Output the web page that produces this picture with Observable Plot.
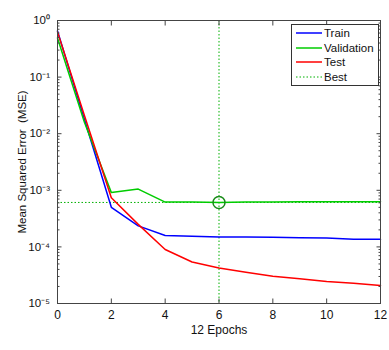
<!DOCTYPE html>
<html><head><meta charset="utf-8">
<script src="https://cdn.jsdelivr.net/npm/d3@7"></script>
<script src="https://cdn.jsdelivr.net/npm/@observablehq/plot@0.6"></script>
<style>
body{margin:0;background:#fff;font-family:"Liberation Sans",Arial,sans-serif;}
#wrap{position:relative;width:389px;height:350px;}
#legend{position:absolute;left:291px;top:24px;width:88px;height:62px;border:1px solid #333;background:#fff;font-size:11.5px;box-sizing:border-box;padding-top:1px;color:#111;}
#legend .row{height:14.6px;display:flex;align-items:center;}
#legend svg{margin-left:4px;margin-right:2px;flex:none;}
</style>
</head><body>
<div id="wrap"><div id="legend"></div></div>
<script>
const epochs = [0,1,2,3,4,5,6,7,8,9,10,11,12];
const train = [0.65, 0.018, 5.0e-4, 2.35e-4, 1.59e-4, 1.55e-4, 1.5e-4, 1.5e-4, 1.48e-4, 1.45e-4, 1.43e-4, 1.37e-4, 1.37e-4];
const validation = [0.49, 0.016, 9.1e-4, 1.05e-3, 6.2e-4, 6.2e-4, 6.1e-4, 6.2e-4, 6.2e-4, 6.3e-4, 6.3e-4, 6.3e-4, 6.3e-4];
const test = [0.63, 0.021, 7.4e-4, 2.5e-4, 9.0e-5, 5.4e-5, 4.25e-5, 3.56e-5, 3.03e-5, 2.74e-5, 2.45e-5, 2.28e-5, 2.08e-5];
const bestEpoch = 6;
const bestPerf = 6.1e-4;
const seriesNames = ["Train", "Validation", "Test"];
const seriesColors = ["#0000ff", "#00cc00", "#ff0000"];
const xTicks = [0,2,4,6,8,10,12];
const yTicks = [1e-5,1e-4,1e-3,1e-2,1e-1,1];
const yTickLabels = ["10\u207B\u2075","10\u207B\u2074","10\u207B\u00B3","10\u207B\u00B2","10\u207B\u00B9","10\u2070"];
const minorMultipliers = [2,3,4,5,6,7,8,9];

const minorTicks = yTicks.slice(0,-1).flatMap(d => minorMultipliers.map(k => k*d));
const seriesValues = [train, validation, test];
const rows = seriesNames.flatMap((s,i) => epochs.map((e,j) => ({series:s, epoch:e, value:seriesValues[i][j]})));
const yLabel = (d) => yTickLabels[yTicks.indexOf(d)];

const chart = Plot.plot({
  width: 389, height: 350,
  marginLeft: 57, marginRight: 9, marginTop: 20, marginBottom: 47,
  style: {fontFamily: '"Liberation Sans", Arial, sans-serif', fontSize: "12px", color: "#111", background: "white"},
  x: {domain: [0, 12]},
  y: {type: "log", domain: [1e-5, 1]},
  color: {domain: seriesNames, range: seriesColors},
  marks: [
    Plot.ruleX([bestEpoch], {stroke: "#00b000", strokeDasharray: "1.5,2", strokeWidth: 1}),
    Plot.ruleY([bestPerf], {stroke: "#00b000", strokeDasharray: "1.5,2", strokeWidth: 1}),
    Plot.line(rows, {x: "epoch", y: "value", stroke: "series", z: "series", strokeWidth: 1.5}),
    Plot.dot([{epoch: bestEpoch, value: bestPerf}], {x: "epoch", y: "value", r: 6, stroke: "#1a8c1a", strokeWidth: 1.5}),
    Plot.frame({stroke: "#444"}),
    Plot.axisY(minorTicks, {anchor: "left", tickSize: -2.5, tickFormat: () => "", label: null, stroke: "#444"}),
    Plot.axisY(minorTicks, {anchor: "right", tickSize: -2.5, tickFormat: () => "", label: null, stroke: "#444"}),
    Plot.axisY(yTicks, {anchor: "right", tickSize: -4.5, tickFormat: () => "", label: null, stroke: "#444"}),
    Plot.axisY(yTicks, {anchor: "left", tickSize: -4.5, tickPadding: 12, tickFormat: yLabel, stroke: "#444", fontSize: 11.5,
      label: "Mean Squared Error  (MSE)", labelAnchor: "center", labelArrow: "none", labelOffset: 40}),
    Plot.axisX(xTicks, {anchor: "top", tickSize: -4.5, tickFormat: () => "", label: null, stroke: "#444"}),
    Plot.axisX(xTicks, {anchor: "bottom", tickSize: -4.5, tickPadding: 11, tickFormat: d => String(d), stroke: "#444",
      label: "12 Epochs", labelAnchor: "center", labelArrow: "none", labelOffset: 30})
  ]
});
document.getElementById("wrap").prepend(chart);

const legendItems = [
  {name: "Train", color: "#0000ff", dash: null},
  {name: "Validation", color: "#00cc00", dash: null},
  {name: "Test", color: "#ff0000", dash: null},
  {name: "Best", color: "#00b000", dash: "1.5,2"}
];
const legend = document.getElementById("legend");
for (const it of legendItems) {
  const row = document.createElement("div");
  row.className = "row";
  const sw = d3.create("svg").attr("width", 26).attr("height", 6);
  sw.append("line").attr("x1", 0).attr("x2", 26).attr("y1", 3).attr("y2", 3)
    .attr("stroke", it.color).attr("stroke-width", it.dash ? 1 : 1.5)
    .attr("stroke-dasharray", it.dash);
  const t = document.createElement("span");
  t.textContent = it.name;
  row.append(sw.node(), t);
  legend.append(row);
}
</script>
</body></html>
